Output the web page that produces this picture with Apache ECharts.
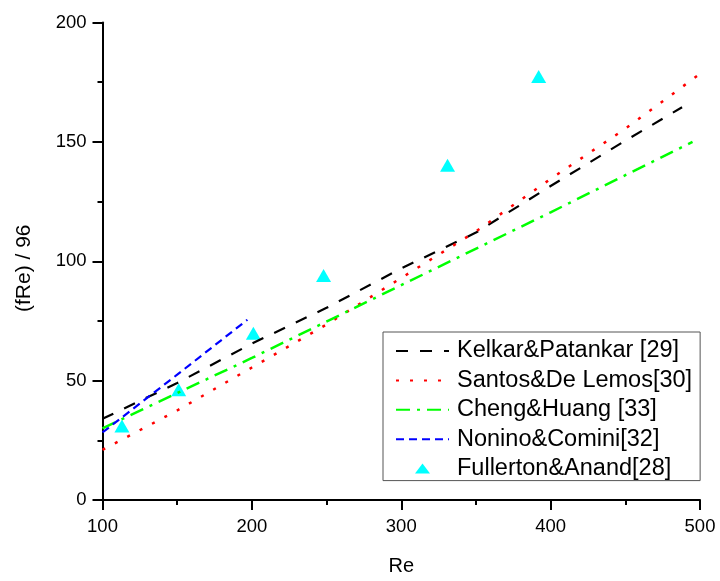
<!DOCTYPE html>
<html>
<head>
<meta charset="utf-8">
<script src="https://cdn.jsdelivr.net/npm/echarts@6/dist/echarts.min.js"></script>
<style>html,body{margin:0;padding:0;background:#fff;}#c{width:720px;height:581px;}</style>
</head>
<body>
<div id="c"></div>
<script>
const seriesNames = ['Kelkar&Patankar [29]', 'Santos&De Lemos[30]', 'Cheng&Huang [33]', 'Nonino&Comini[32]', 'Fullerton&Anand[28]'];
const kelkarRe = [100, 150, 200, 250, 300, 350, 400, 450, 488];
const kelkarVal = [34, 49, 65.5, 80.5, 97, 112, 131.5, 150.5, 164.5];
const santosRe = [100, 150, 200, 250, 300, 350, 400, 450, 500];
const santosVal = [21, 37.5, 55.5, 73.5, 93, 112.5, 134.5, 155.5, 178.5];
const chengRe = [100, 200, 300, 400, 495];
const chengVal = [30, 59.5, 90, 120.5, 150];
const noninoRe = [100, 150, 197];
const noninoVal = [28.3, 52.5, 75.5];
const fullertonRe = [113, 151, 201, 248, 331, 392];
const fullertonVal = [31, 46.2, 69.8, 94, 140.2, 177.4];
const xTicks = [100, 200, 300, 400, 500];
const yTicks = [0, 50, 100, 150, 200];

function pairs(xs, ys) { return xs.map((x, i) => [x, ys[i]]); }
const FONT = '"Liberation Sans", Arial, sans-serif';
const hideSym = {opacity: 0};

const chart = echarts.init(document.getElementById('c'), null, {renderer: 'canvas'});
chart.setOption({
  animation: false,
  backgroundColor: '#ffffff',
  grid: {left: 102.5, right: 20, top: 22.5, bottom: 76},
  xAxis: {
    type: 'value', min: xTicks[0], max: xTicks[xTicks.length - 1], interval: 100,
    name: 'Re', nameLocation: 'middle', nameGap: 56,
    nameTextStyle: {fontFamily: FONT, fontSize: 20, color: '#000'},
    axisLine: {show: true, onZero: false, lineStyle: {color: '#000', width: 2}},
    axisTick: {show: true, length: 10, lineStyle: {color: '#000', width: 2}},
    minorTick: {show: true, splitNumber: 2, length: 5, lineStyle: {color: '#000', width: 2}},
    axisLabel: {fontFamily: FONT, fontSize: 18.5, color: '#000', margin: 17},
    splitLine: {show: false}
  },
  yAxis: {
    type: 'value', min: yTicks[0], max: yTicks[yTicks.length - 1], interval: 50,
    name: '(fRe) / 96', nameLocation: 'middle', nameGap: 68, nameRotate: 90,
    nameTextStyle: {fontFamily: FONT, fontSize: 21, color: '#000', padding: [0, 14, 0, 0]},
    axisLine: {show: true, onZero: false, lineStyle: {color: '#000', width: 2}},
    axisTick: {show: true, length: 10, lineStyle: {color: '#000', width: 2}},
    minorTick: {show: true, splitNumber: 2, length: 5, lineStyle: {color: '#000', width: 2}},
    axisLabel: {fontFamily: FONT, fontSize: 18.5, color: '#000', margin: 16},
    splitLine: {show: false}
  },
  legend: {
    left: 383, top: 332,
    orient: 'vertical',
    data: [
      {name: seriesNames[0], itemStyle: hideSym},
      {name: seriesNames[1], itemStyle: hideSym},
      {name: seriesNames[2], itemStyle: hideSym},
      {name: seriesNames[3], itemStyle: hideSym},
      {name: seriesNames[4], icon: 'path://M0,10L7.5,0L15,10Z'}
    ],
    itemWidth: 53, itemHeight: 10, itemGap: 5.4,
    padding: [7, 8, 0, 12],
    borderColor: '#555', borderWidth: 1,
    textStyle: {fontFamily: FONT, fontSize: 23.5, color: '#000', lineHeight: 23, padding: [0, 0, 0, 3]}
  },
  series: [
    {name: seriesNames[0], type: 'line', data: pairs(kelkarRe, kelkarVal), showSymbol: false, symbol: 'none',
     lineStyle: {color: '#000', width: 2.2, type: [12, 12]}, itemStyle: {color: '#000'}},
    {name: seriesNames[1], type: 'line', data: pairs(santosRe, santosVal), showSymbol: false, symbol: 'none',
     lineStyle: {color: '#ff0000', width: 2.5, type: [3, 11]}, itemStyle: {color: '#ff0000'}},
    {name: seriesNames[2], type: 'line', data: pairs(chengRe, chengVal), showSymbol: false, symbol: 'none',
     lineStyle: {color: '#00ff00', width: 2.5, type: [14, 7, 3, 7]}, itemStyle: {color: '#00ff00'}},
    {name: seriesNames[3], type: 'line', data: pairs(noninoRe, noninoVal), showSymbol: false, symbol: 'none',
     lineStyle: {color: '#0000ff', width: 2.2, type: [8, 5]}, itemStyle: {color: '#0000ff'}},
    {name: seriesNames[4], type: 'scatter', data: pairs(fullertonRe, fullertonVal), symbol: 'triangle',
     symbolSize: [15, 13], itemStyle: {color: '#00ffff', opacity: 1}}
  ]
});
</script>
</body>
</html>
